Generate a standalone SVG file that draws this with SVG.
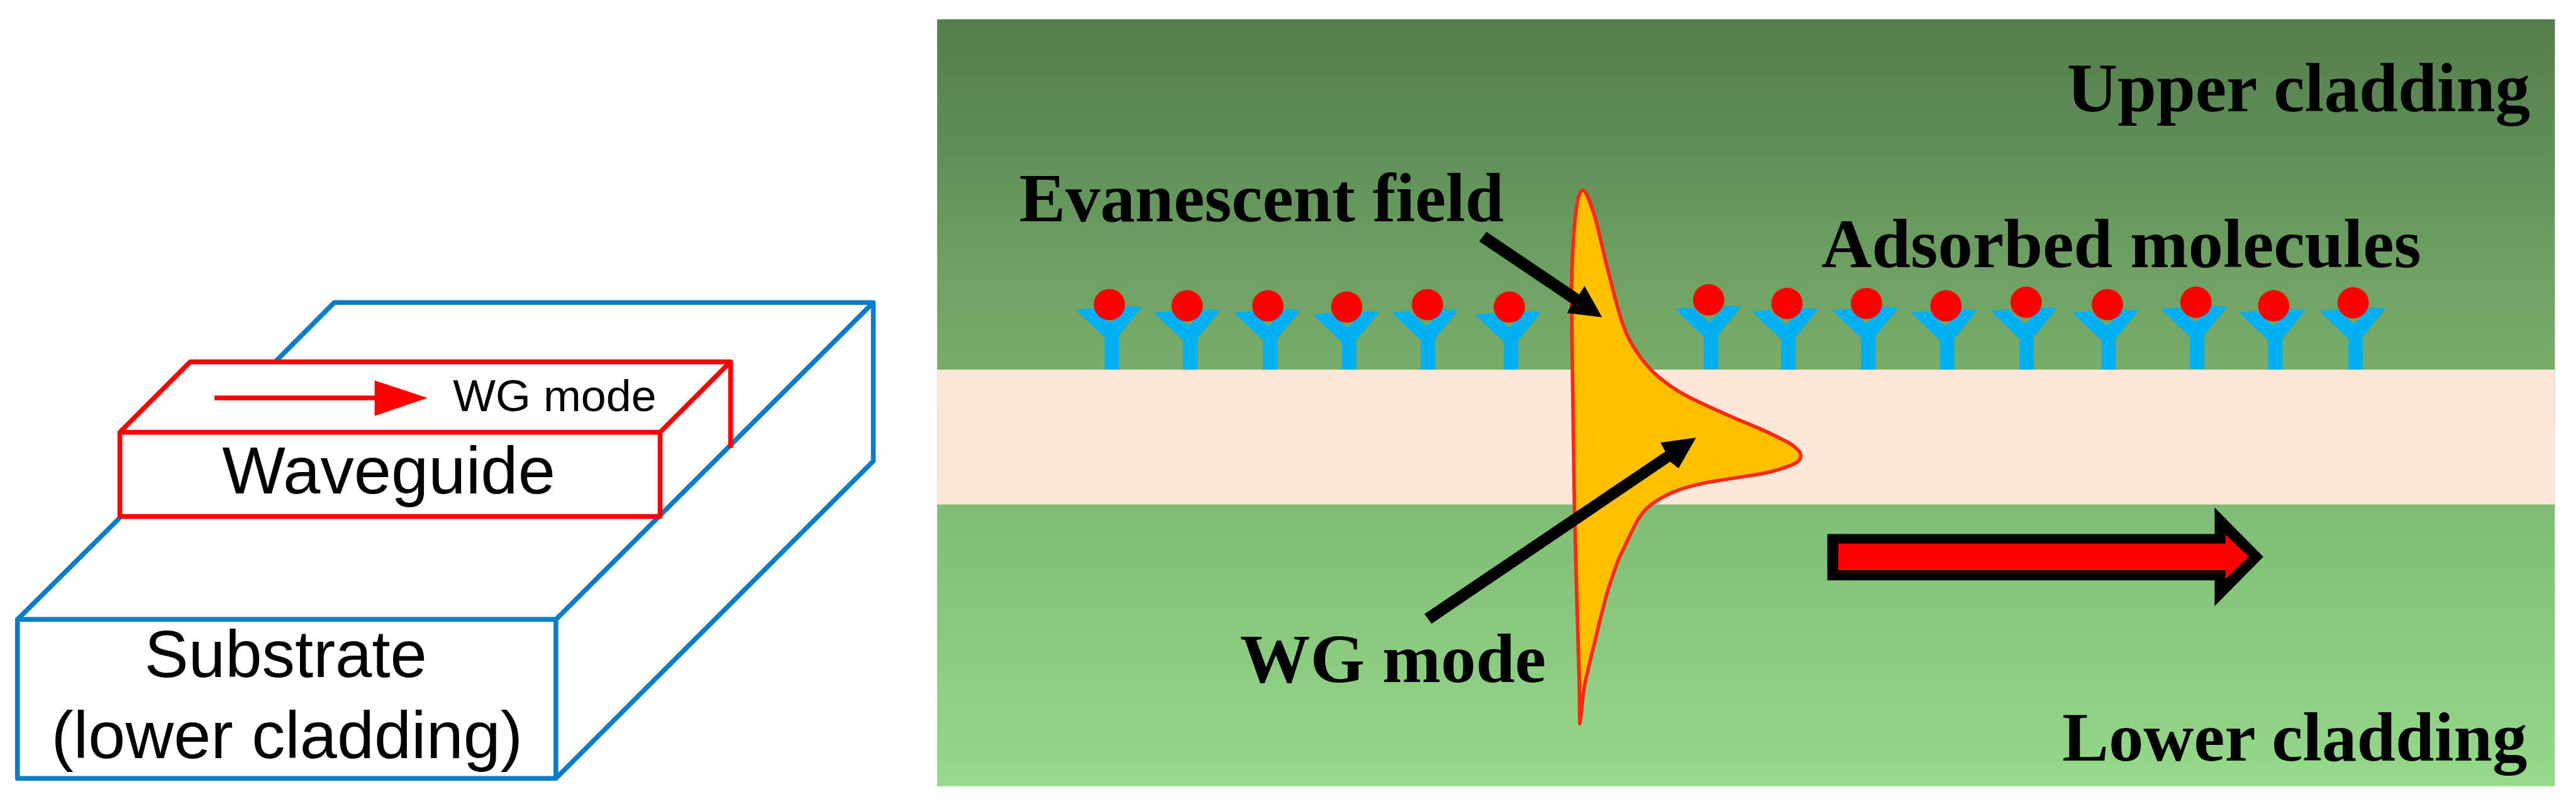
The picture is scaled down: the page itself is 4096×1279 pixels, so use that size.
<svg xmlns="http://www.w3.org/2000/svg" width="4096" height="1279" viewBox="0 0 4096 1279">
<defs>
<linearGradient id="bgGrad" gradientUnits="userSpaceOnUse" x1="0" y1="32" x2="0" y2="1306">
<stop offset="0" stop-color="#557d4b"/><stop offset="0.179" stop-color="#5f9058"/><stop offset="0.328" stop-color="#6fa163"/><stop offset="0.457" stop-color="#78ad6a"/><stop offset="0.633" stop-color="#80bc75"/><stop offset="1" stop-color="#96d98a"/>
</linearGradient>
<path id="ab" d="M-58 4 L-31 2 L-3 27 L24 -1 L48 0 L45 4 L11 46 L11 102 L-11 102 L-11 49 Z"/>
</defs>
<style>
.blue{fill:none;stroke:#0a7cc8;stroke-width:8;stroke-linejoin:round}
.red{fill:none;stroke:#f00;stroke-width:8;stroke-linejoin:round}
.sans{font-family:"Liberation Sans",Arial,sans-serif;fill:#000}
.serif{font-family:"Liberation Serif","Times New Roman",serif;font-weight:bold;font-size:116px;fill:#000}
.ab{fill:#00b0f0;stroke:#00b0f0;stroke-width:2;stroke-linejoin:round}
.mol{fill:#f00}
.pt{fill:#000}
</style>
<g transform="scale(0.95767)">
<g id="substrate">
<path class="blue" d="M457 601 L555 502.5 H1450 V766 L923 1293 H29 V1029 H923 V1293 M923 1029 L1450 502.5 M29 1029 L199 860"/>
<text class="sans" x="240" y="1125" font-size="110" textLength="469" lengthAdjust="spacingAndGlyphs">Substrate</text>
<text class="sans" x="85" y="1259" font-size="111" textLength="783" lengthAdjust="spacingAndGlyphs">(lower cladding)</text>
</g>
<g id="waveguide">
<path class="red" d="M199 718 L316 601 H1213 L1096 718 Z M199 718 V858 H1096 V718 M1213 601 V744"/>
<text class="sans" x="369" y="820" font-size="111" textLength="553" lengthAdjust="spacingAndGlyphs">Waveguide</text>
<path class="red" d="M356 661 H630"/>
<polygon fill="#f00" points="622,632 710,661 622,691"/>
<text class="sans" x="752" y="683" font-size="74" textLength="338" lengthAdjust="spacingAndGlyphs">WG mode</text>
</g>
<g id="panel">
<rect x="1556" y="32" width="2686" height="1274" fill="url(#bgGrad)"/>
</g>
<g id="antibodies">
<use href="#ab" class="ab" x="1846" y="511"/><use href="#ab" class="ab" x="1976" y="516"/><use href="#ab" class="ab" x="2109" y="516"/><use href="#ab" class="ab" x="2240" y="519"/><use href="#ab" class="ab" x="2371" y="516"/><use href="#ab" class="ab" x="2509" y="519"/>
<use href="#ab" class="ab" x="2841" y="510"/><use href="#ab" class="ab" x="2969" y="514"/><use href="#ab" class="ab" x="3102" y="512"/><use href="#ab" class="ab" x="3233" y="516"/><use href="#ab" class="ab" x="3365" y="513"/><use href="#ab" class="ab" x="3501" y="516"/><use href="#ab" class="ab" x="3648" y="510"/><use href="#ab" class="ab" x="3778" y="516"/><use href="#ab" class="ab" x="3911" y="513"/>
</g>
<g id="core">
<rect x="1556" y="614" width="2686" height="224" fill="#fee6d8"/>
</g>
<g id="molecules">
<circle class="mol" r="26" cx="1842" cy="506"/><circle class="mol" r="26" cx="1971" cy="508"/><circle class="mol" r="26" cx="2105" cy="508"/><circle class="mol" r="26" cx="2236" cy="510"/><circle class="mol" r="26" cx="2370" cy="506"/><circle class="mol" r="26" cx="2506" cy="510"/>
<circle class="mol" r="26" cx="2837" cy="498"/><circle class="mol" r="26" cx="2967" cy="504"/><circle class="mol" r="26" cx="3099" cy="504"/><circle class="mol" r="26" cx="3231" cy="508"/><circle class="mol" r="26" cx="3364" cy="502"/><circle class="mol" r="26" cx="3499" cy="506"/><circle class="mol" r="26" cx="3646" cy="502"/><circle class="mol" r="26" cx="3775" cy="508"/><circle class="mol" r="26" cx="3907" cy="503"/>
</g>
<g id="mode-profile">
<path fill="#ffc000" stroke="#fa2a10" stroke-width="6" stroke-linejoin="round" d="M2627 316 C2634 316 2640 335 2647 357 C2654 379 2661 415 2669 446 C2677 476 2686 516 2695 540 C2704 564 2711 575 2720 588 C2729 601 2736 610 2747 620 C2758 630 2771 640 2787 650 C2803 660 2825 670 2843 678 C2861 686 2876 693 2893 700 C2910 707 2929 715 2943 722 C2957 729 2969 734 2977 740 C2985 746 2990 752 2990 757 C2990 762 2988 766 2980 770 C2972 774 2957 779 2943 783 C2929 787 2912 789 2893 792 C2874 795 2846 799 2827 803 C2808 807 2791 812 2777 818 C2763 824 2753 830 2743 837 C2733 844 2728 851 2721 861 C2714 871 2703 897 2693 917 C2683 937 2680 950 2673 970 C2666 990 2665 1000 2660 1017 C2655 1034 2653 1047 2647 1070 C2641 1093 2636 1115 2632 1133 C2629 1148 2627 1165 2626 1180 C2625 1190 2624 1196 2623 1202 L2622 1127 L2618 993 L2615 877 L2614 838 L2610 560 L2609 491 C2610 430 2612 390 2616 357 C2619 330 2623 316 2627 316 Z"/>
</g>
<g id="labels">
<text class="serif" x="3432" y="185" textLength="769" lengthAdjust="spacingAndGlyphs">Upper cladding</text>
<text class="serif" x="1692" y="368" textLength="805" lengthAdjust="spacingAndGlyphs">Evanescent field</text>
<text class="serif" x="3024" y="444" textLength="996" lengthAdjust="spacingAndGlyphs">Adsorbed molecules</text>
<text class="serif" x="2059" y="1133" textLength="508" lengthAdjust="spacingAndGlyphs">WG mode</text>
<text class="serif" x="3424" y="1264" textLength="772" lengthAdjust="spacingAndGlyphs">Lower cladding</text>
</g>
<g id="connectors">
<polygon class="pt" points="2468,385 2622,489 2631,475 2660,527 2602,520 2610,505 2456,401"/>
<polygon class="pt" points="2365,1020 2765,750 2757,735 2816,727 2787,778 2773,767 2377,1036"/>
</g>
<g id="propagation-arrow">
<polygon class="pt" points="3034,887 3677,887 3677,843 3758,925 3677,1007 3677,964 3034,964"/>
<polygon fill="#f00" points="3052,903 3695,903 3695,888 3734,925 3695,962 3695,947 3052,947"/>
</g>
</g>
</svg>
